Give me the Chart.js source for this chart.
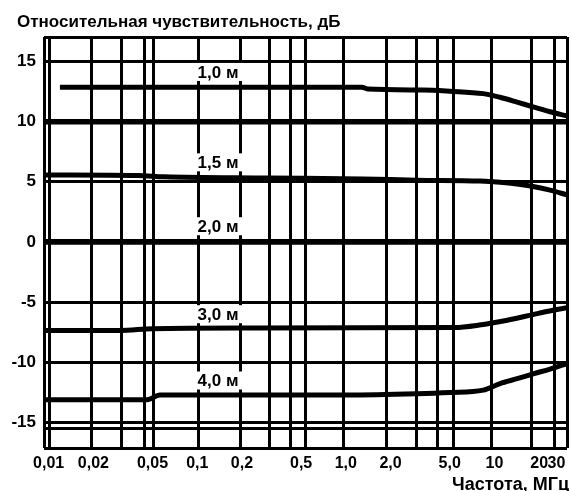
<!DOCTYPE html>
<html lang="ru">
<head>
<meta charset="utf-8">
<title>Относительная чувствительность</title>
<style>
    html, body { margin: 0; padding: 0; background: #fff; }
    #chart { display: block; }
</style>
</head>
<body>
<canvas id="chart" width="571" height="491"></canvas>
<script src="https://cdn.jsdelivr.net/npm/chart.js@4.4.1/dist/chart.umd.min.js"></script>
<script>
// Диапазон осей: частота, МГц (лог.) и уровень, дБ
var X_MIN = 0.0093, X_MAX = 30.8;
var Y_MIN = -17.1, Y_MAX = 17.0;

// Вертикальные линии сетки (как на бланке, неравномерные)
var xGridValues = [0.0102, 0.0195, 0.0311, 0.0444, 0.0511, 0.1026, 0.194, 0.308, 0.427, 0.539,
    0.971, 1.89, 3.01, 4.17, 5.34, 9.63, 17.9, 25.2];
var xLabelValues = [0.01, 0.02, 0.05, 0.1, 0.2, 0.5, 1, 2, 5, 10, 20, 30];
var xLabelText = ["0,01", "0,02", "0,05", "0,1", "0,2", "0,5", "1,0", "2,0", "5,0", "10", "20", "30"];

// Горизонтальные линии сетки
var yGridValues = [-15.5, -15, -10, -5, 0, 5, 10, 15];
var yThickValues = [0, 10];
var yLabelValues = [15, 10, 5, 0, -5, -10, -15];
var yLabelText = ["15", "10", "5", "0", "-5", "-10", "-15"];

// Кривые для разных расстояний
var curveNames = ["1,0 м", "1,5 м", "2,0 м", "3,0 м", "4,0 м"];
var freq10 = [0.0119, 1.28, 1.4, 3.3, 5.0, 8.4, 10.9, 14.2, 18.2, 23.7, 30.8];
var sens10 = [12.84, 12.84, 12.68, 12.6, 12.5, 12.3, 12.0, 11.6, 11.2, 10.8, 10.45];
var freq15 = [0.0093, 0.04, 0.06, 0.3, 1.3, 3.0, 8.0, 10.9, 14.2, 18.2, 23.7, 30.8];
var sens15 = [5.55, 5.5, 5.4, 5.3, 5.22, 5.12, 5.05, 4.95, 4.8, 4.6, 4.3, 3.9];
var freq20 = [0.0093, 30.8];
var sens20 = [0, 0];
var freq30 = [0.0093, 0.03, 0.05, 0.2, 5.4, 7.9, 12.2, 19.4, 30.8];
var sens30 = [-7.35, -7.35, -7.2, -7.14, -7.1, -6.9, -6.5, -5.95, -5.45];
var freq40 = [0.0093, 0.046, 0.056, 1.0, 3.0, 5.0, 8.4, 10.9, 14.2, 18.2, 23.7, 30.8];
var sens40 = [-13.1, -13.1, -12.7, -12.7, -12.6, -12.5, -12.3, -11.75, -11.35, -10.95, -10.55, -10.1];

// Подписи кривых: частота и уровень центра подписи
var curveLabelFreq = 0.138;
var curveLabelLevels = [14.1, 6.6, 1.3, -6.0, -11.5];

(function () {
    "use strict";

    var FONT = '"Liberation Sans", Arial, sans-serif';

    function points(xs, ys) {
        return xs.map(function (x, i) { return { x: x, y: ys[i] }; });
    }

    function setTicks(values) {
        return function (scale) {
            scale.ticks = values.map(function (v) { return { value: v }; });
        };
    }

    // подписи кривых на белой подложке поверх сетки, заголовки осей
    var captions = {
        id: "captions",
        beforeDatasetsDraw: function (chart) {
            var ctx = chart.ctx;
            var xs = chart.scales.x, ys = chart.scales.y;
            ctx.save();
            ctx.font = "bold 17px " + FONT;
            ctx.textAlign = "center";
            ctx.textBaseline = "middle";
            curveNames.forEach(function (name, i) {
                var cx = xs.getPixelForValue(curveLabelFreq);
                var cy = ys.getPixelForValue(curveLabelLevels[i]);
                ctx.fillStyle = "#fff";
                ctx.fillRect(cx - 26, cy - 9, 52, 18);
                ctx.fillStyle = "#000";
                ctx.fillText(name, cx, cy + 1);
            });
            ctx.restore();
        },
        afterDraw: function (chart) {
            var ctx = chart.ctx;
            ctx.save();
            ctx.fillStyle = "#000";
            ctx.textBaseline = "alphabetic";
            ctx.font = "bold 17px " + FONT;
            ctx.textAlign = "left";
            ctx.fillText("Относительная чувствительность, дБ", 17, 27);
            ctx.font = "bold 18px " + FONT;
            ctx.textAlign = "right";
            ctx.fillText("Частота, МГц", 569, 490);
            ctx.restore();
        }
    };

    function init() {
        var canvas = document.getElementById("chart");
        var series = [
            points(freq10, sens10),
            points(freq15, sens15),
            points(freq20, sens20),
            points(freq30, sens30),
            points(freq40, sens40)
        ];

        new Chart(canvas, {
            type: "line",
            data: {
                datasets: series.map(function (data, i) {
                    return {
                        label: curveNames[i],
                        data: data,
                        borderColor: "#000",
                        borderWidth: 5,
                        pointRadius: 0,
                        fill: false,
                        cubicInterpolationMode: "monotone"
                    };
                })
            },
            options: {
                responsive: false,
                animation: false,
                layout: { padding: { top: 37, right: 4, left: 0, bottom: 0 } },
                plugins: { legend: { display: false }, tooltip: { enabled: false } },
                scales: {
                    x: {
                        type: "logarithmic",
                        position: "bottom",
                        min: X_MIN,
                        max: X_MAX,
                        afterBuildTicks: setTicks([X_MIN].concat(xGridValues, [X_MAX])),
                        afterFit: function (s) { s.height = 0; s.paddingLeft = 0; s.paddingRight = 0; },
                        ticks: { display: false, autoSkip: false },
                        grid: { color: "#000", lineWidth: 3, drawTicks: false },
                        border: { display: false }
                    },
                    xl: {
                        type: "logarithmic",
                        position: "bottom",
                        min: X_MIN,
                        max: X_MAX,
                        // пустая первая метка: при align "inner" вправо прижимается только "30"
                        afterBuildTicks: setTicks([X_MIN].concat(xLabelValues)),
                        afterFit: function (s) { s.height = 43; s.paddingLeft = 0; s.paddingRight = 0; },
                        grid: { display: false, drawTicks: false },
                        border: { display: false },
                        ticks: {
                            autoSkip: false,
                            maxRotation: 0,
                            align: "inner",
                            padding: 6,
                            color: "#000",
                            font: { family: FONT, size: 16, weight: "bold" },
                            callback: function (v, i) { return i === 0 ? "" : xLabelText[i - 1]; }
                        }
                    },
                    y: {
                        type: "linear",
                        min: Y_MIN,
                        max: Y_MAX,
                        afterBuildTicks: setTicks([Y_MIN].concat(yGridValues, [Y_MAX])),
                        afterFit: function (s) { s.width = 44; },
                        grid: {
                            color: "#000",
                            drawTicks: false,
                            lineWidth: function (c) {
                                return c.tick && yThickValues.indexOf(c.tick.value) >= 0 ? 5.5 : 3;
                            }
                        },
                        border: { display: false },
                        ticks: {
                            autoSkip: false,
                            padding: 8,
                            color: "#000",
                            font: { family: FONT, size: 17, weight: "bold" },
                            callback: function (v) {
                                var i = yLabelValues.indexOf(v);
                                return i < 0 ? "" : yLabelText[i];
                            }
                        }
                    }
                }
            },
            plugins: [captions]
        });
    }

    if (document.readyState === "loading") {
        document.addEventListener("DOMContentLoaded", init);
    } else {
        init();
    }
})();
</script>
</body>
</html>
